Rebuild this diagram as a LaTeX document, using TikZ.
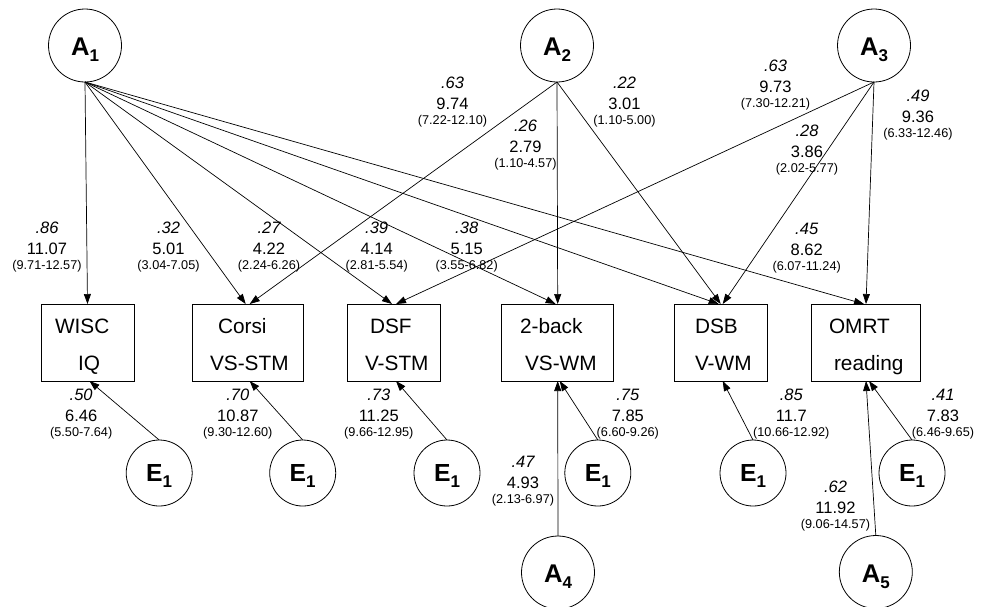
\documentclass[tikz,border=0pt]{standalone}
\usepackage{fontspec}
\setmainfont{Liberation Sans}
\usetikzlibrary{arrows.meta}
\newcommand{\pathlab}[6]{%
  \node[stdl] (#1s) at (#2,#3) {#4};
  \node[estl] (#1e) at (#2,#3+21) {#5};
  \node[cil] (#1c) at (#2,#3+36) {#6};}
\newcommand{\lat}[2]{\textbf{#1}\raisebox{-6pt}{\fontsize{17}{17}\selectfont\bfseries #2}}
\begin{document}
\begin{tikzpicture}[x=1pt,y=-1pt,
  every node/.style={inner sep=0pt, outer sep=0pt},
  stdl/.style={anchor=base, font=\fontsize{16.5}{16.5}\selectfont\itshape},
  estl/.style={anchor=base, font=\fontsize{16.5}{16.5}\selectfont},
  cil/.style={anchor=base, font=\fontsize{12.7}{12.7}\selectfont},
  latA/.style={circle, draw, line width=0.8pt, minimum size=73pt, font=\fontsize{25.6}{25.6}\selectfont, text height=22pt, text depth=2pt},
  latE/.style={circle, draw, line width=0.8pt, minimum size=66pt, font=\fontsize{24.7}{24.7}\selectfont, text height=18pt, text depth=2pt},
  obs/.style={draw, line width=0.8pt, minimum height=77pt},
  btxt/.style={anchor=base west, font=\fontsize{20.8}{20.8}\selectfont},
  arr/.style={line width=0.7pt, -{Triangle[length=10pt,width=7pt]}},
]
\useasboundingbox (0,0) rectangle (981,606);

% latent variables
\node[latA] (A1) at (85,45.5) {\lat{A}{1}};
\node[latA] (A2) at (557,45.5) {\lat{A}{2}};
\node[latA] (A3) at (874,45.5) {\lat{A}{3}};
\node[latA] (A4) at (558,572.5) {\lat{A}{4}};
\node[latA] (A5) at (875.8,572) {\lat{A}{5}};
\node[latE] (E1) at (159.2,473) {\lat{E}{1}};
\node[latE] (E2) at (302.7,473) {\lat{E}{1}};
\node[latE] (E3) at (447,473) {\lat{E}{1}};
\node[latE] (E4) at (597.8,473) {\lat{E}{1}};
\node[latE] (E5) at (753,473) {\lat{E}{1}};
\node[latE] (E6) at (912,473) {\lat{E}{1}};

% observed
\node[obs, minimum width=93pt] (wisc) at (87.5,342.5) {};
\node[obs, minimum width=111pt] (corsi) at (247.7,342.5) {};
\node[obs, minimum width=92.6pt] (dsf) at (394,342.5) {};
\node[obs, minimum width=112pt] (back) at (557.7,342.5) {};
\node[obs, minimum width=92.7pt] (dsb) at (720.7,342.5) {};
\node[obs, minimum width=108.6pt] (omrt) at (866,342.5) {};

\node[btxt] (wiscA) at (55,333.3) {WISC};
\node[btxt] (wiscB) at (78,370.7) {IQ};
\node[btxt] (corsiA) at (218,333.3) {Corsi};
\node[btxt] (corsiB) at (210,370.7) {VS-STM};
\node[btxt] (dsfA) at (370,333.3) {DSF};
\node[btxt] (dsfB) at (365,370.7) {V-STM};
\node[btxt] (backA) at (520,333.3) {2-back};
\node[btxt] (backB) at (525,370.7) {VS-WM};
\node[btxt] (dsbA) at (695,333.3) {DSB};
\node[btxt] (dsbB) at (695,370.7) {V-WM};
\node[btxt] (omrtA) at (829,333.3) {OMRT};
\node[btxt] (omrtB) at (834,370.7) {reading};

% paths from A1
\draw[arr] (A1.south) -- (wisc.north);
\draw[arr] (A1.south) -- ([xshift=-2pt]corsi.north);
\draw[arr] (A1.south) -- ([xshift=-2pt]dsf.north);
\draw[arr] (A1.south) -- ([xshift=-2pt]back.north);
\draw[arr] (A1.south) -- ([xshift=-2pt]dsb.north);
\draw[arr] (A1.south) -- ([xshift=-2pt]omrt.north);
% A2
\draw[arr] (A2.south) -- ([xshift=2pt]corsi.north);
\draw[arr] (A2.south) -- (back.north);
\draw[arr] (A2.south) -- (dsb.north);
% A3
\draw[arr] (A3.south) -- ([xshift=2pt]dsf.north);
\draw[arr] (A3.south) -- ([xshift=2pt]dsb.north);
\draw[arr] (A3.south) -- (omrt.north);
% errors
\draw[arr] (E1.north) -- ([xshift=2pt]wisc.south);
\draw[arr] (E2.north) -- ([xshift=2pt]corsi.south);
\draw[arr] (E3.north) -- ([xshift=2pt]dsf.south);
\draw[arr] (E4.north) -- ([xshift=2pt]back.south);
\draw[arr] (E5.north) -- ([xshift=2pt]dsb.south);
\draw[arr] (E6.north) -- ([xshift=3pt]omrt.south);
\draw[arr] (A4.north) -- (back.south);
\draw[arr] (A5.north) -- (omrt.south);

% labels
\pathlab{l1}{47}{233}{.86}{11.07}{(9.71-12.57)}
\pathlab{l2}{168.5}{233}{.32}{5.01}{(3.04-7.05)}
\pathlab{l3}{269}{233}{.27}{4.22}{(2.24-6.26)}
\pathlab{l4}{376.7}{233}{.39}{4.14}{(2.81-5.54)}
\pathlab{l5}{466.7}{233}{.38}{5.15}{(3.55-6.82)}
\pathlab{l6}{806.7}{234}{.45}{8.62}{(6.07-11.24)}
\pathlab{l7}{452.5}{88}{.63}{9.74}{(7.22-12.10)}
\pathlab{l8}{525.5}{131.5}{.26}{2.79}{(1.10-4.57)}
\pathlab{l9}{624.5}{88}{.22}{3.01}{(1.10-5.00)}
\pathlab{l10}{775.5}{71}{.63}{9.73}{(7.30-12.21)}
\pathlab{l11}{807}{136}{.28}{3.86}{(2.02-5.77)}
\pathlab{l12}{918}{101.7}{.49}{9.36}{(6.33-12.46)}
\pathlab{e1}{81.2}{400}{.50}{6.46}{(5.50-7.64)}
\pathlab{e2}{237.8}{400}{.70}{10.87}{(9.30-12.60)}
\pathlab{e3}{378.8}{400}{.73}{11.25}{(9.66-12.95)}
\pathlab{e4}{627.8}{400}{.75}{7.85}{(6.60-9.26)}
\pathlab{e5}{791.3}{400}{.85}{11.7}{(10.66-12.92)}
\pathlab{e6}{943}{400}{.41}{7.83}{(6.46-9.65)}
\pathlab{a4}{523}{467}{.47}{4.93}{(2.13-6.97)}
\pathlab{a5}{835.5}{492.5}{.62}{11.92}{(9.06-14.57)}
\end{tikzpicture}
\end{document}
